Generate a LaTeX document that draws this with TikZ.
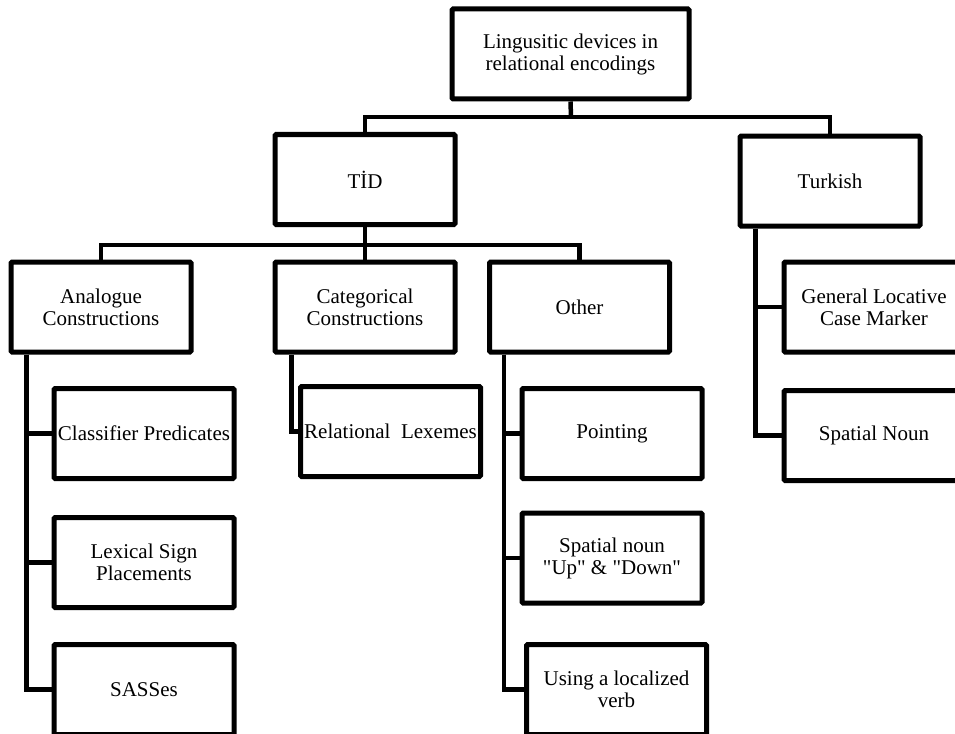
\documentclass[tikz,border=0pt]{standalone}
\usepackage{fontspec}
\setmainfont{Liberation Serif}
\begin{document}
\begin{tikzpicture}[x=1pt,y=-1pt,
  box/.style={draw=black, line width=5pt, rounded corners=1.2pt, align=center,
    inner sep=0pt, minimum width=180pt, minimum height=90pt,
    font=\fontsize{21}{22}\selectfont},
  conn/.style={draw=black, line width=4.5pt}]
\useasboundingbox (0,0) rectangle (955,733);
\clip (0,0) rectangle (955,733);
\fill[white] (0,0) rectangle (955,733);
% top levels
\node[box, minimum width=237pt] (root) at (570.5,54) {Lingusitic devices in\\relational encodings};
\node[box] (tid) at (365,179.5) {TİD};
\node[box] (turkish) at (830,181) {Turkish};
\node[box] (analogue) at (101,307) {Analogue\\Constructions};
\node[box] (categorical) at (365,307) {Categorical\\Constructions};
\node[box] (other) at (579.5,307) {Other};
\node[box] (general) at (874,307) {General Locative\\Case Marker};
% leaves
\node[box] (classifier) at (144,433.5) {Classifier Predicates};
\node[box] (lexical) at (144,562.5) {Lexical Sign\\Placements};
\node[box] (sasses) at (144,689.5) {SASSes};
\node[box] (relational) at (390.5,431.5) {Relational\ \ Lexemes};
\node[box] (pointing) at (612,433.5) {Pointing};
\node[box] (spatialud) at (612,558) {Spatial noun\\\textquotedbl Up\textquotedbl{} \& \textquotedbl Down\textquotedbl};
\node[box] (using) at (616.5,689.5) {Using a localized\\verb};
\node[box] (spatialn) at (874,435.5) {Spatial Noun};
% connectors
\coordinate (j1) at (571,117);
\coordinate (j2) at (365,245);
\draw[conn] (root.south) -- (j1);
\draw[conn] (j1) -| (tid.north);
\draw[conn] (j1) -| (turkish.north);
\draw[conn] (tid.south) -- (j2);
\draw[conn] (j2) -| (analogue.north);
\draw[conn] (j2) -| (other.north);
\draw[conn] (j2) -- (categorical.north);
\draw[conn] ([xshift=18pt]analogue.south west) |- (classifier.west);
\draw[conn] ([xshift=18pt]analogue.south west) |- (lexical.west);
\draw[conn] ([xshift=18pt]analogue.south west) |- (sasses.west);
\draw[conn] ([xshift=19pt]categorical.south west) |- (relational.west);
\draw[conn] ([xshift=17pt]other.south west) |- (pointing.west);
\draw[conn] ([xshift=17pt]other.south west) |- (spatialud.west);
\draw[conn] ([xshift=17pt]other.south west) |- (using.west);
\draw[conn] ([xshift=18pt]turkish.south west) |- (general.west);
\draw[conn] ([xshift=18pt]turkish.south west) |- (spatialn.west);
\end{tikzpicture}
\end{document}
